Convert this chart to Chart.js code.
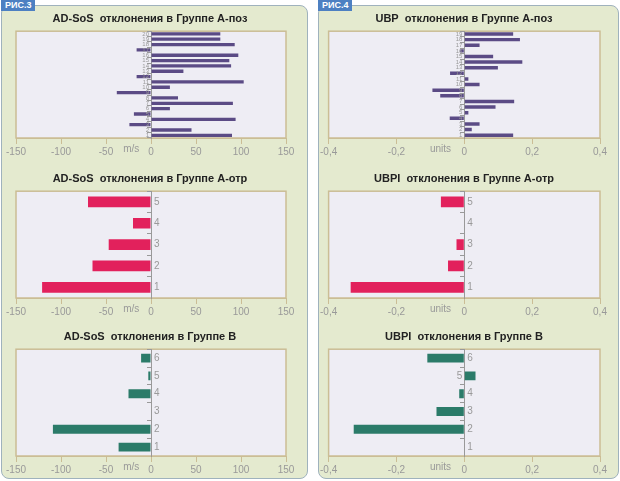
<!DOCTYPE html>
<html><head><meta charset="utf-8">
<script src="https://cdn.jsdelivr.net/npm/chart.js@4"></script>
<style>
body{margin:0;width:620px;height:481px;background:#fff;position:relative;font-family:"Liberation Sans",Arial,sans-serif;overflow:hidden}
.frame{position:absolute;border:1px solid #9fb2bd;border-radius:8px;background:#e4eacf}
.tag{position:absolute;top:0;height:11px;padding:0 4px;background:#4d80c2;color:#fff;font:bold 9px "Liberation Sans",Arial;line-height:11px}
.box{position:absolute;width:300px;height:154px}
</style></head><body>
<div class="frame" style="left:1px;top:5px;width:305px;height:472px"></div>
<div class="frame" style="left:318px;top:5px;width:299px;height:472px"></div>
<div class="tag" style="left:1px">РИС.3</div>
<div class="tag" style="left:318px">РИС.4</div>
<div class="box" style="left:4px;top:6px"><canvas id="c1"></canvas></div>
<div class="box" style="left:4px;top:166px"><canvas id="c2"></canvas></div>
<div class="box" style="left:4px;top:324px"><canvas id="c3"></canvas></div>
<div class="box" style="left:318px;top:6px"><canvas id="c4"></canvas></div>
<div class="box" style="left:318px;top:166px"><canvas id="c5"></canvas></div>
<div class="box" style="left:318px;top:324px"><canvas id="c6"></canvas></div>
<script>
// values listed from category 1 (bottom) upward
const sosPosValues = [90, 45, -24, 94, -19, 21, 91, 30, -38, 21, 103, -16, 36, 89, 87, 97, -16, 93, 77, 77];
const sosNegValues = [-121, -65, -47, -20, -70];
const sosBValues = [-36, -109, 0, -25, -3, -11];
const ubpPosValues = [0.144, 0.022, 0.045, -0.043, 0.012, 0.092, 0.147, -0.071, -0.094, 0.045, 0.012, -0.042, 0.099, 0.171, 0.085, -0.012, 0.045, 0.164, 0.144];
const ubpNegValues = [-0.335, -0.048, -0.023, 0, -0.069];
const ubpBValues = [0, -0.326, -0.082, -0.015, 0.033, -0.109];
const sosTicks = {min: -150, max: 150, step: 50};
const ubpTicks = {min: -0.4, max: 0.4, step: 0.2};

const purple = '#5b4b85', red = '#e2215c', teal = '#2b7b69';

const plotBg = {
  id: 'plotBg',
  beforeDraw(chart) {
    const a = chart.chartArea, ctx = chart.ctx;
    ctx.save();
    ctx.fillStyle = '#eeedf4';
    ctx.fillRect(a.left, a.top, a.width, a.height);
    ctx.strokeStyle = '#cbbd95';
    ctx.lineWidth = 1.5;
    ctx.strokeRect(a.left, a.top, a.width, a.height);
    ctx.restore();
  },
  afterDatasetsDraw(chart, args, opts) {
    const x = chart.scales.x, y = chart.scales.y, ctx = chart.ctx;
    const vals = chart.data.datasets[0].data;
    const many = vals.length > 10;
    const x0 = x.getPixelForValue(0);
    ctx.save();
    ctx.fillStyle = '#999';
    ctx.textBaseline = 'middle';
    ctx.font = (many ? 6 : 10) + 'px "Liberation Sans", Arial';
    chart.data.labels.forEach((lab, i) => {
      const py = y.getPixelForValue(i);
      const left = many || vals[i] > 0;
      ctx.textAlign = left ? 'right' : 'left';
      ctx.fillText(lab, left ? x0 - 2 : x0 + 3, py);
    });
    ctx.font = '10px "Liberation Sans", Arial';
    ctx.textAlign = 'center';
    ctx.textBaseline = 'top';
    ctx.fillText(opts.unit, x.getPixelForValue(opts.at), x.top + 6);
    ctx.restore();
  }
};

function makeChart(id, title, values, color, t, unit, unitAt) {
  const labels = values.map((v, i) => String(i + 1));
  const many = values.length > 10;
  new Chart(document.getElementById(id), {
    type: 'bar',
    data: {labels, datasets: [{data: values, backgroundColor: color, barPercentage: 1, categoryPercentage: many ? 0.62 : 0.5}]},
    options: {
      indexAxis: 'y', responsive: true, maintainAspectRatio: false, animation: false,
      layout: {padding: {left: 10, right: 18, top: 0, bottom: 0}},
      plugins: {
        legend: {display: false}, tooltip: {enabled: false},
        title: {display: true, text: title, color: '#222', font: {family: '"Liberation Sans", Arial', size: 11, weight: 'bold'}, padding: {top: 6, bottom: 6}},
        plotBg: {unit, at: unitAt}
      },
      scales: {
        x: {
          min: t.min, max: t.max,
          border: {color: '#cbbd95'},
          grid: {drawOnChartArea: false, color: '#cbbd95', tickLength: 6},
          ticks: {stepSize: t.step, color: '#999', font: {size: 10}, padding: 2,
            callback: v => String(Math.round(v * 10) / 10).replace('.', ',')}
        },
        y: {
          position: {x: 0}, reverse: true,
          border: {color: '#999', width: 1},
          grid: {drawOnChartArea: false, offset: true, color: '#999', tickLength: 4},
          ticks: {mirror: true, display: false}
        }
      }
    },
    plugins: [plotBg]
  });
}

makeChart('c1', 'AD-SoS  отклонения в Группе А-поз', sosPosValues, purple, sosTicks, 'm/s', -22);
makeChart('c2', 'AD-SoS  отклонения в Группе А-отр', sosNegValues, red, sosTicks, 'm/s', -22);
makeChart('c3', 'AD-SoS  отклонения в Группе В', sosBValues, teal, sosTicks, 'm/s', -22);
makeChart('c4', 'UBP  отклонения в Группе А-поз', ubpPosValues, purple, ubpTicks, 'units', -0.07);
makeChart('c5', 'UBPI  отклонения в Группе А-отр', ubpNegValues, red, ubpTicks, 'units', -0.07);
makeChart('c6', 'UBPI  отклонения в Группе В', ubpBValues, teal, ubpTicks, 'units', -0.07);
</script>
</body></html>
